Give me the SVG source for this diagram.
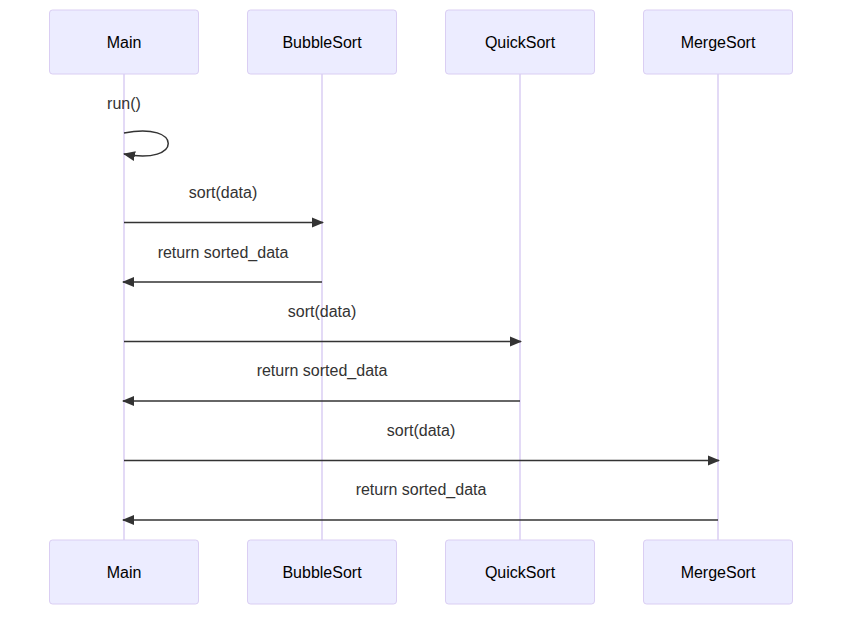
<svg xmlns="http://www.w3.org/2000/svg" width="850" height="621" viewBox="0 0 850 621">
<defs>
<style>
.actor{fill:#ECECFF;stroke:hsl(259.6,59.8%,87.9%);stroke-width:1}
.life{stroke:hsl(259.6,59.8%,87.9%);stroke-width:1.5}
.atext{font-family:"Liberation Sans",Arial,sans-serif;font-size:16px;fill:#000;text-anchor:middle}
.mtext{font-family:"Liberation Sans",Arial,sans-serif;font-size:16px;fill:#333;text-anchor:middle}
.msg{stroke:#333;stroke-width:1.5;fill:none}
</style>
<marker id="arrow" viewBox="0 0 12 12" refX="11" refY="6" markerWidth="12" markerHeight="12" markerUnits="userSpaceOnUse" orient="auto">
<path d="M0,1 L12,6 L0,11 z" fill="#333"/>
</marker>
</defs>
<rect width="850" height="621" fill="#fff"/>
<g id="lifelines">
<line class="life" x1="124" y1="74" x2="124" y2="540"/>
<line class="life" x1="322" y1="74" x2="322" y2="540"/>
<line class="life" x1="520" y1="74" x2="520" y2="540"/>
<line class="life" x1="718" y1="74" x2="718" y2="540"/>
</g>
<g id="actor-Main-top"><rect class="actor" x="49.5" y="10" width="149" height="64" rx="3"/><text class="atext" x="124" y="48">Main</text></g>
<g id="actor-BubbleSort-top"><rect class="actor" x="247.5" y="10" width="149" height="64" rx="3"/><text class="atext" x="322" y="48">BubbleSort</text></g>
<g id="actor-QuickSort-top"><rect class="actor" x="445.5" y="10" width="149" height="64" rx="3"/><text class="atext" x="520" y="48">QuickSort</text></g>
<g id="actor-MergeSort-top"><rect class="actor" x="643.5" y="10" width="149" height="64" rx="3"/><text class="atext" x="718" y="48">MergeSort</text></g>
<g id="actor-Main-bottom"><rect class="actor" x="49.5" y="540" width="149" height="64" rx="3"/><text class="atext" x="124" y="578">Main</text></g>
<g id="actor-BubbleSort-bottom"><rect class="actor" x="247.5" y="540" width="149" height="64" rx="3"/><text class="atext" x="322" y="578">BubbleSort</text></g>
<g id="actor-QuickSort-bottom"><rect class="actor" x="445.5" y="540" width="149" height="64" rx="3"/><text class="atext" x="520" y="578">QuickSort</text></g>
<g id="actor-MergeSort-bottom"><rect class="actor" x="643.5" y="540" width="149" height="64" rx="3"/><text class="atext" x="718" y="578">MergeSort</text></g>
<g id="messages">
<text class="mtext" x="124" y="109">run()</text>
<path class="msg" d="M124,133 C183,121 183,166 124,154" marker-end="url(#arrow)"/>
<text class="mtext" x="223" y="198">sort(data)</text>
<line class="msg" x1="124" y1="222.5" x2="323" y2="222.5" marker-end="url(#arrow)"/>
<text class="mtext" x="223" y="258">return sorted_data</text>
<line class="msg" x1="322" y1="282" x2="123" y2="282" marker-end="url(#arrow)"/>
<text class="mtext" x="322" y="317">sort(data)</text>
<line class="msg" x1="124" y1="341.5" x2="521" y2="341.5" marker-end="url(#arrow)"/>
<text class="mtext" x="322" y="376">return sorted_data</text>
<line class="msg" x1="520" y1="401" x2="123" y2="401" marker-end="url(#arrow)"/>
<text class="mtext" x="421" y="436">sort(data)</text>
<line class="msg" x1="124" y1="460.5" x2="719" y2="460.5" marker-end="url(#arrow)"/>
<text class="mtext" x="421" y="495">return sorted_data</text>
<line class="msg" x1="718" y1="520" x2="123" y2="520" marker-end="url(#arrow)"/>
</g>
</svg>
